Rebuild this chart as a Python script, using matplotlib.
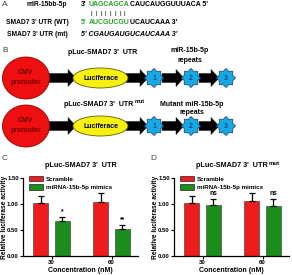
import matplotlib
matplotlib.use('Agg')
import matplotlib.pyplot as plt
from matplotlib.patches import Ellipse, Polygon
import numpy as np

plt.rcParams['font.family'] = ['Liberation Sans', 'DejaVu Sans']
plt.rcParams['font.weight'] = 'bold'
plt.rcParams['axes.titleweight'] = 'bold'
plt.rcParams['axes.labelweight'] = 'bold'

# data
concentrations = ['30', '60']
scramble_wt = [1.01, 1.04]
scramble_wt_err = [0.14, 0.17]
mimics_wt = [0.68, 0.52]
mimics_wt_err = [0.07, 0.08]
sig_wt = ['*', '**']

scramble_mut = [1.01, 1.06]
scramble_mut_err = [0.15, 0.15]
mimics_mut = [0.98, 0.96]
mimics_mut_err = [0.12, 0.14]
sig_mut = ['ns', 'ns']

series_names = ['Scramble', 'miRNA-15b-5p mimics']
red = '#ee1d1d'
green = '#1c8c1c'
seq_green = '#2aa02a'

W, H = 292, 275
fig = plt.figure(figsize=(W / 100, H / 100), dpi=100)

# canvas for panels A and B, in pixel units
cv = fig.add_axes([0, 0, 1, 1])
cv.set_xlim(0, W)
cv.set_ylim(H, 0)
cv.axis('off')

fs = 5.0
lfs = 4.8

# ---- panel A
cv.text(2, 5, 'A', fontsize=6, color='#444444', fontweight='normal', va='center')
cv.text(67, 5, 'miR-15bb-5p', fontsize=lfs, ha='right', va='center')
cv.text(81, 5, "3'", fontsize=fs, va='center')
t = cv.text(89, 5, 'UAGCAGCA', fontsize=fs, va='center', color=seq_green)
cv.annotate('CAUCAUGGUUUACA 5\'', xy=(1, 0.5), xycoords=t, fontsize=fs,
            va='center', ha='left')
for k in range(8):
    cv.text(91.5 + k * 4.75, 14, '|', fontsize=fs - 0.5, va='center', ha='center',
            fontweight='normal')

cv.text(69, 23, 'SMAD7 3\' UTR (WT)', fontsize=lfs, ha='right', va='center')
cv.text(81, 23, "5'", fontsize=fs, va='center', color=seq_green)
t = cv.text(89, 23, 'AUCGUCGU', fontsize=fs, va='center', color=seq_green)
cv.annotate("UCAUCAAA 3'", xy=(1, 0.5), xycoords=t, fontsize=fs,
            va='center', ha='left')

cv.text(68, 34, 'SMAD7 3\' UTR (mt)', fontsize=lfs, ha='right', va='center')
cv.text(81, 34, "5' CGAUGAUGUCAUCAAA 3'", fontsize=fs, va='center',
        style='italic')

# ---- panel B
cv.text(2, 50, 'B', fontsize=6, color='#444444', fontweight='normal', va='center')


def star(cx, cy, r_out=9.5, r_in=7.2, n=8):
    ang = np.arange(2 * n) * np.pi / n + np.pi / 2
    rr = np.where(np.arange(2 * n) % 2 == 0, r_out, r_in)
    return np.column_stack([cx + rr * np.cos(ang), cy + rr * np.sin(ang)])


def arrow(x0, x1, y):
    hl = 8
    bh = 4.5
    hh = 8.5
    pts = [(x0, y - bh), (x1 - hl, y - bh), (x1 - hl, y - hh), (x1, y),
           (x1 - hl, y + hh), (x1 - hl, y + bh), (x0, y + bh)]
    cv.add_patch(Polygon(pts, closed=True, fc='black', ec='black', lw=0.3))


def construct_row(y):
    arrow(48, 76, y)
    cv.add_patch(Ellipse((26, y), 47, 42, fc='#ee1010', ec='#990000', lw=0.6))
    cv.text(26, y - 5, 'CMV', fontsize=fs, ha='center', va='center', color='#7a0000')
    cv.text(26, y + 5, 'promoter', fontsize=fs, ha='center', va='center', color='#7a0000')
    arrow(126, 148, y)
    cv.add_patch(Ellipse((100.5, y), 55, 20, fc='#f7f010', ec='#6a5a00', lw=0.6))
    cv.text(100.5, y, 'Luciferace', fontsize=fs, ha='center', va='center')
    arrow(162, 184, y)
    arrow(199, 219, y)
    for k, cx in enumerate([154, 191, 226]):
        cv.add_patch(Polygon(star(cx, y), closed=True, fc='#17a9e6',
                             ec='#1f4f7a', lw=0.6))
        cv.text(cx, y + 0.5, str(k + 1), fontsize=fs, ha='center', va='center',
                color='#10205a', fontweight='normal')


construct_row(78)
construct_row(126)

cv.text(103, 52, "pLuc-SMAD7 3'  UTR", fontsize=fs, ha='center', va='center')
cv.text(190, 51, 'miR-15b-5p', fontsize=fs, ha='center', va='center')
cv.text(190, 60, 'repeats', fontsize=fs, ha='center', va='center')
t = cv.text(99, 104, "pLuc-SMAD7 3'  UTR", fontsize=fs, ha='center', va='center')
cv.annotate('mut', xy=(1, 1), xycoords=t, xytext=(1, -1), textcoords='offset points',
            fontsize=fs - 1, va='center', ha='left')
cv.text(192, 104, 'Mutant miR-15b-5p', fontsize=fs, ha='center', va='center')
cv.text(192, 113, 'repeats', fontsize=fs, ha='center', va='center')

# ---- panels C, D
cv.text(2, 159, 'C', fontsize=6, color='#444444', fontweight='normal', va='center')
cv.text(150, 159, 'D', fontsize=6, color='#444444', fontweight='normal', va='center')


def bar_panel(left_px, scr, scr_err, mim, mim_err, sig, title, sup=False):
    ax = fig.add_axes([left_px / W, (H - 256) / H, 115 / W, 78 / H])
    x = np.arange(len(concentrations))
    off, bw = 0.18, 0.25
    ax.bar(x - off, scr, bw, color=red, edgecolor='#333333', lw=0.4, label=series_names[0])
    ax.bar(x + off, mim, bw, color=green, edgecolor='#333333', lw=0.4, label=series_names[1])
    kw = dict(fmt='none', ecolor='black', elinewidth=0.9, capsize=2.5, capthick=0.9)
    ax.errorbar(x - off, scr, yerr=[np.zeros(len(scr)), scr_err], **kw)
    ax.errorbar(x + off, mim, yerr=[np.zeros(len(mim)), mim_err], **kw)
    for xi, v, e, s in zip(x + off, mim, mim_err, sig):
        ax.text(xi, v + e + 0.03, s, ha='center', va='bottom', fontsize=4.8)
    ax.set_xlim(-0.475, 1.44)
    ax.set_ylim(0, 1.5)
    ax.set_yticks([0, 0.5, 1.0, 1.5])
    ax.set_yticklabels(['0.00', '0.50', '1.00', '1.50'])
    ax.set_xticks(x)
    ax.set_xticklabels(concentrations)
    ax.tick_params(labelsize=4.3, length=2, width=0.8, pad=1)
    for s in ['top', 'right']:
        ax.spines[s].set_visible(False)
    for s in ['left', 'bottom']:
        ax.spines[s].set_linewidth(0.9)
    ax.set_xlabel('Concentration (nM)', fontsize=5, labelpad=1)
    ax.set_ylabel('Relative luciferase activity', fontsize=4.8)
    ax.yaxis.set_label_coords(-0.13, 0.5)
    t = ax.set_title(title, fontsize=5.2, pad=8)
    if sup:
        ax.annotate('mut', xy=(1, 1), xycoords=t, xytext=(1, -1),
                    textcoords='offset points', fontsize=4.3, va='center', ha='left')
    ax.legend(loc='upper left', bbox_to_anchor=(0.03, 1.06), frameon=False,
              fontsize=4.5, handlelength=2.2, handleheight=1.0, handletextpad=0.5,
              labelspacing=0.35, borderaxespad=0)
    for p in ax.get_legend().get_patches():
        p.set_edgecolor('#222222')
        p.set_linewidth(0.5)
    return ax


bar_panel(23, scramble_wt, scramble_wt_err, mimics_wt, mimics_wt_err, sig_wt,
          "pLuc-SMAD7 3'  UTR")
bar_panel(174, scramble_mut, scramble_mut_err, mimics_mut, mimics_mut_err, sig_mut,
          "pLuc-SMAD7 3'  UTR", sup=True)

fig.savefig('out.png', dpi=100)
